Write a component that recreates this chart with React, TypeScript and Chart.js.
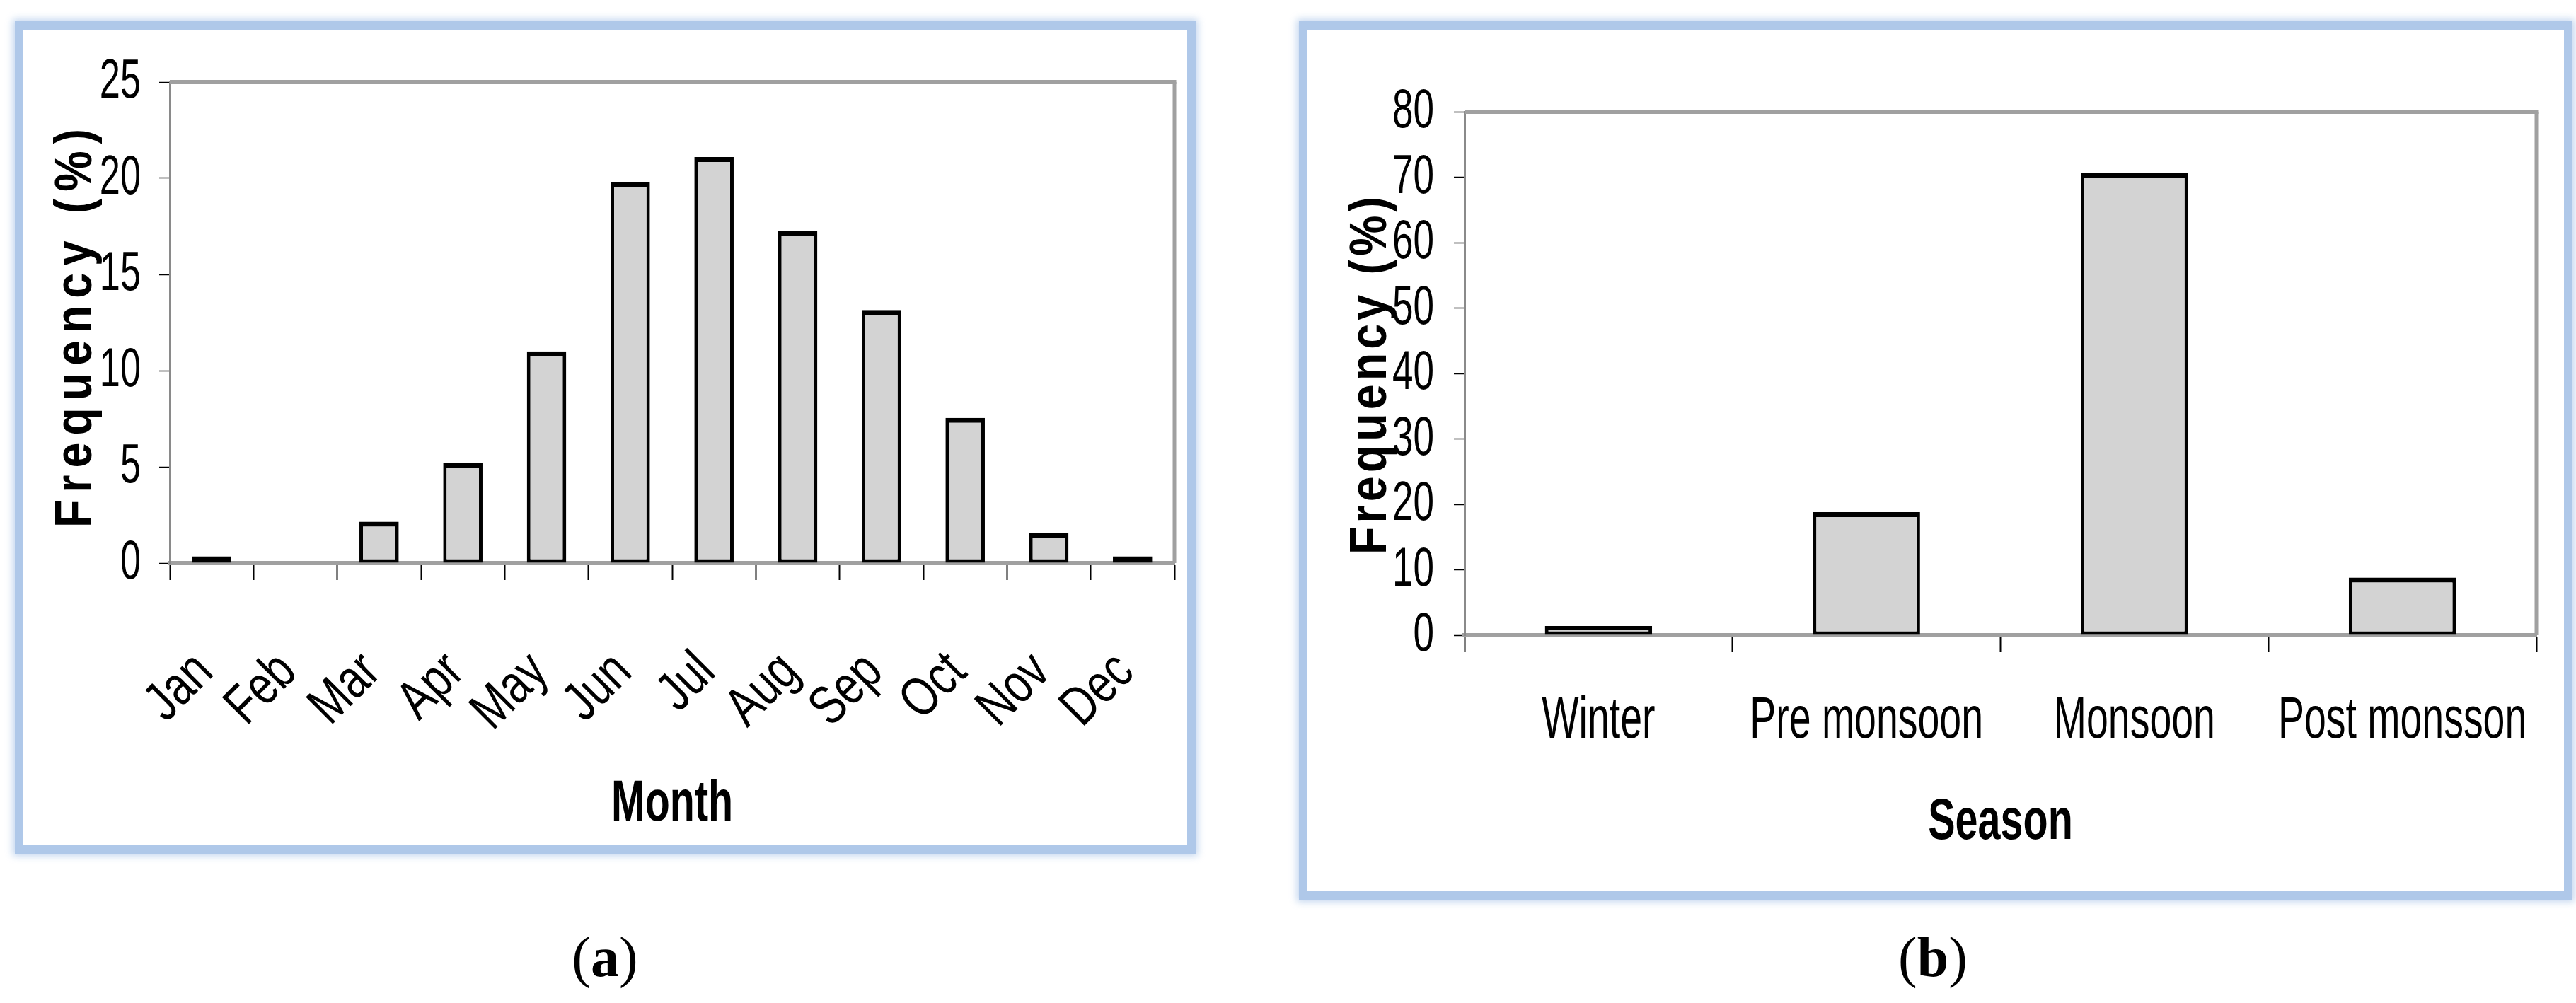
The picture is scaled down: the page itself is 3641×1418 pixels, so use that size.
import React, { useEffect, useRef } from "react";
import { Chart, registerables } from "chart.js";

Chart.register(...registerables);

// ---------- data ----------
const monthLabels = ["Jan", "Feb", "Mar", "Apr", "May", "Jun", "Jul", "Aug", "Sep", "Oct", "Nov", "Dec"];
const monthFrequency = [0.35, 0, 2.15, 5.2, 11.0, 19.8, 21.1, 17.25, 13.15, 7.55, 1.55, 0.35];
const monthAxisMax = 25;
const monthAxisStep = 5;

const seasonLabels = ["Winter", "Pre monsoon", "Monsoon", "Post monsson"];
const seasonFrequency = [1.4, 18.8, 70.6, 8.8];
const seasonAxisMax = 80;
const seasonAxisStep = 10;

const yAxisTitle = "Frequency (%)";
const monthAxisTitle = "Month";
const seasonAxisTitle = "Season";
const captionA = "a";
const captionB = "b";

const FONT = "'Liberation Sans', Arial, sans-serif";

function drawText(
  ctx: CanvasRenderingContext2D,
  text: string,
  x: number,
  y: number,
  angle: number,
  sx: number,
  font: string,
  align: CanvasTextAlign,
  baseline: CanvasTextBaseline
) {
  ctx.save();
  ctx.translate(x, y);
  ctx.rotate(angle);
  ctx.scale(sx, 1);
  ctx.font = font;
  ctx.textAlign = align;
  ctx.textBaseline = baseline;
  ctx.fillStyle = "#000";
  ctx.fillText(text, 0, 0);
  ctx.restore();
}

// vertical (bottom-to-top) text, characters spread to fill a target length
function drawSpreadVertical(
  ctx: CanvasRenderingContext2D,
  text: string,
  baseX: number,
  centerY: number,
  font: string,
  sx: number,
  targetLen: number
) {
  ctx.save();
  ctx.translate(baseX, centerY);
  ctx.rotate(-Math.PI / 2);
  ctx.font = font;
  ctx.textAlign = "left";
  ctx.textBaseline = "alphabetic";
  ctx.fillStyle = "#000";
  const chars = Array.from(text);
  const widths = chars.map((ch) => ctx.measureText(ch).width * sx);
  const total = widths.reduce((a, b) => a + b, 0);
  const gap = (targetLen - total) / (chars.length - 1);
  let x = -targetLen / 2;
  chars.forEach((ch, i) => {
    ctx.save();
    ctx.translate(x, 0);
    ctx.scale(sx, 1);
    ctx.fillText(ch, 0, 0);
    ctx.restore();
    x += widths[i] + gap;
  });
  ctx.restore();
}

type TextCfg = {
  yTickRight: number;
  yTickBaseDy: number;
  yTickSize: number;
  yTickSx: number;
  xMode: "rot" | "flat";
  xLabelY: number;
  xLabelDx: number;
  xLabelSize: number;
  xLabelSx: number;
  xTitle: string;
  xTitleY: number;
  xTitleSize: number;
  xTitleSx: number;
  yTitleX: number;
  yTitleY: number;
  yTitleSize: number;
  yTitleSx: number;
  yTitleLen: number;
};

function makeTextPlugin(cfg: TextCfg) {
  return {
    id: "panelText",
    beforeDatasetsDraw(chart: any) {
      const { ctx, chartArea } = chart;
      ctx.save();
      ctx.strokeStyle = "#a0a0a0";
      ctx.lineWidth = 6;
      ctx.beginPath();
      ctx.moveTo(chartArea.left, chartArea.top);
      ctx.lineTo(chartArea.right + 2.5, chartArea.top);
      ctx.stroke();
      ctx.lineWidth = 5;
      ctx.beginPath();
      ctx.moveTo(chartArea.right, chartArea.top);
      ctx.lineTo(chartArea.right, chartArea.bottom);
      ctx.stroke();
      ctx.restore();
    },
    afterDraw(chart: any) {
      const { ctx, chartArea } = chart;
      const xs = chart.scales.x;
      const ys = chart.scales.y;
      ys.ticks.forEach((t: any) => {
        const py = ys.getPixelForValue(t.value);
        drawText(ctx, String(t.value), cfg.yTickRight, py + cfg.yTickBaseDy, 0, cfg.yTickSx,
          `${cfg.yTickSize}px ${FONT}`, "right", "alphabetic");
      });
      const labels: string[] = chart.data.labels;
      labels.forEach((lab, i) => {
        const px = xs.getPixelForValue(i);
        if (cfg.xMode === "rot") {
          drawText(ctx, lab, px + cfg.xLabelDx, cfg.xLabelY, -Math.PI / 4, cfg.xLabelSx,
            `${cfg.xLabelSize}px ${FONT}`, "right", "alphabetic");
        } else {
          drawText(ctx, lab, px, cfg.xLabelY, 0, cfg.xLabelSx,
            `${cfg.xLabelSize}px ${FONT}`, "center", "alphabetic");
        }
      });
      drawText(ctx, cfg.xTitle, (chartArea.left + chartArea.right) / 2, cfg.xTitleY, 0, cfg.xTitleSx,
        `bold ${cfg.xTitleSize}px ${FONT}`, "center", "alphabetic");
      drawSpreadVertical(ctx, yAxisTitle, cfg.yTitleX, cfg.yTitleY,
        `bold ${cfg.yTitleSize}px ${FONT}`, cfg.yTitleSx, cfg.yTitleLen);
    },
  };
}

type PanelProps = {
  left: number;
  top: number;
  width: number;
  height: number;
  labels: string[];
  values: number[];
  yMax: number;
  yStep: number;
  barPct: number;
  padding: { left: number; right: number; top: number; bottom: number };
  text: TextCfg;
};

function BarPanel(p: PanelProps) {
  const ref = useRef<HTMLCanvasElement | null>(null);
  useEffect(() => {
    if (!ref.current) return;
    const chart = new Chart(ref.current, {
      type: "bar",
      data: {
        labels: p.labels,
        datasets: [
          {
            data: p.values,
            backgroundColor: "#d3d3d3",
            borderColor: "#000000",
            borderWidth: { top: 7, bottom: 5, left: 5, right: 5 },
            borderSkipped: false,
            barPercentage: p.barPct,
            categoryPercentage: 1,
          } as any,
        ],
      },
      options: {
        animation: false,
        responsive: false,
        devicePixelRatio: 1,
        layout: { padding: p.padding },
        plugins: {
          legend: { display: false },
          tooltip: { enabled: false },
          title: { display: false },
        },
        scales: {
          x: {
            grid: {
              display: true,
              drawOnChartArea: false,
              drawTicks: true,
              tickLength: 24,
              tickColor: "#000",
              tickWidth: 2,
              offset: true,
            },
            border: { display: true, color: "#a0a0a0", width: 6 },
            ticks: { display: false },
          },
          y: {
            min: 0,
            max: p.yMax,
            ticks: { display: false, stepSize: p.yStep },
            grid: {
              display: true,
              drawOnChartArea: false,
              drawTicks: true,
              tickLength: 15,
              tickColor: "#000",
              tickWidth: 1.5,
            },
            border: { display: true, color: "#8a8a8a", width: 3 },
          },
        },
      } as any,
      plugins: [makeTextPlugin(p.text)],
    });
    return () => chart.destroy();
  }, []);
  return (
    <canvas
      ref={ref}
      width={p.width}
      height={p.height}
      style={{ position: "absolute", left: p.left, top: p.top, width: p.width, height: p.height }}
    />
  );
}

function Frame(props: { left: number; top: number; right: number; bottom: number }) {
  return (
    <div
      style={{
        position: "absolute",
        left: props.left,
        top: props.top,
        width: props.right - props.left,
        height: props.bottom - props.top,
        boxSizing: "border-box",
        border: "12px solid #afc8e9",
        boxShadow: "0 0 10px 3px rgba(175,200,233,0.75)",
      }}
    />
  );
}

function Caption(props: { cx: number; letter: string }) {
  return (
    <div
      style={{
        position: "absolute",
        left: props.cx - 150,
        top: 1313,
        width: 300,
        textAlign: "center",
        fontFamily: "'Liberation Serif', 'Times New Roman', serif",
        fontSize: 80,
        lineHeight: "80px",
        color: "#000",
      }}
    >
      (<b>{props.letter}</b>)
    </div>
  );
}

export default function App() {
  return (
    <div
      style={{
        position: "absolute",
        left: 0,
        top: 0,
        width: 3641,
        height: 1418,
        background: "#fff",
        overflow: "hidden",
      }}
    >
      <BarPanel
        left={33}
        top={42}
        width={1645}
        height={1153}
        labels={monthLabels}
        values={monthFrequency}
        yMax={monthAxisMax}
        yStep={monthAxisStep}
        barPct={0.47}
        padding={{ left: 192, right: 18, top: 74, bottom: 375 }}
        text={{
          yTickRight: 166,
          yTickBaseDy: 22,
          yTickSize: 77,
          yTickSx: 0.68,
          xMode: "rot",
          xLabelY: 911,
          xLabelDx: 5,
          xLabelSize: 78,
          xLabelSx: 0.78,
          xTitle: monthAxisTitle,
          xTitleY: 1118,
          xTitleSize: 82,
          xTitleSx: 0.7,
          yTitleX: 96,
          yTitleY: 422,
          yTitleSize: 75,
          yTitleSx: 0.86,
          yTitleLen: 564,
        }}
      />
      <BarPanel
        left={1849}
        top={42}
        width={1775}
        height={1218}
        labels={seasonLabels}
        values={seasonFrequency}
        yMax={seasonAxisMax}
        yStep={seasonAxisStep}
        barPct={0.4}
        padding={{ left: 206, right: 39, top: 116, bottom: 338 }}
        text={{
          yTickRight: 178,
          yTickBaseDy: 22,
          yTickSize: 78,
          yTickSx: 0.68,
          xMode: "flat",
          xLabelY: 1001,
          xLabelDx: 0,
          xLabelSize: 84,
          xLabelSx: 0.66,
          xTitle: seasonAxisTitle,
          xTitleY: 1144,
          xTitleSize: 81,
          xTitleSx: 0.71,
          yTitleX: 110,
          yTitleY: 489,
          yTitleSize: 75,
          yTitleSx: 0.86,
          yTitleLen: 506,
        }}
      />
      <Frame left={21} top={30} right={1690} bottom={1207} />
      <Frame left={1836} top={30} right={3636} bottom={1272} />
      <Caption cx={855} letter={captionA} />
      <Caption cx={2732} letter={captionB} />
    </div>
  );
}
